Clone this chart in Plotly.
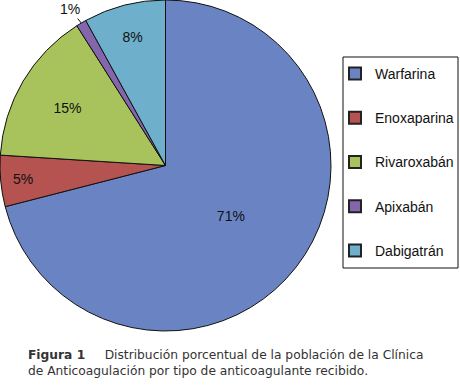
import math
import plotly.graph_objects as go

labels = ["Warfarina", "Enoxaparina", "Rivaroxabán", "Apixabán", "Dabigatrán"]
values = [71, 5, 15, 1, 8]
colors = ["#6A84C3", "#B4534F", "#A8C35B", "#8466AD", "#6EAFCB"]
small_slice = "Apixabán"   # labelled outside with a leader line

W, H = 460, 391
PIE_D = 331  # pie diameter in px
dom_x = [0, PIE_D / W]
dom_y = [(H - PIE_D) / H, 1]

texts = ["" if l == small_slice else f"{v}%" for l, v in zip(labels, values)]
tpos = ["none" if l == small_slice else "inside" for l in labels]

fig = go.Figure()
fig.add_trace(go.Pie(
    labels=labels, values=values, sort=False, direction="clockwise", rotation=0,
    marker=dict(colors=colors, line=dict(color="#111111", width=1)),
    text=texts, textinfo="text", textposition=tpos,
    insidetextorientation="horizontal",
    textfont=dict(family="Liberation Sans, Arial", size=14, color="#111111"),
    showlegend=False, domain=dict(x=dom_x, y=dom_y), hoverinfo="label+percent",
))
for lab, col in zip(labels, colors):
    fig.add_trace(go.Scatter(
        x=[None], y=[None], mode="markers", name=lab, legendgroup=lab,
        marker=dict(symbol="square", size=15, color=col, line=dict(color="#222", width=1)),
    ))

# leader-line label for the small slice, anchored at the slice's mid-angle on the rim
total = sum(values)
idx = labels.index(small_slice)
mid_frac = (sum(values[:idx]) + values[idx] / 2) / total
theta = 2 * math.pi * mid_frac
cx_px, cy_px, r_px = PIE_D / 2, PIE_D / 2, PIE_D / 2
px = cx_px + r_px * math.sin(theta)
py = cy_px - r_px * math.cos(theta)

fig.update_layout(
    width=W, height=H, margin=dict(l=0, r=0, t=0, b=0, autoexpand=False),
    paper_bgcolor="white", plot_bgcolor="white",
    xaxis=dict(visible=False), yaxis=dict(visible=False),
    legend=dict(x=335 / W, y=1 - 58 / H, xanchor="left", yanchor="top",
                borderwidth=0, bgcolor="rgba(0,0,0,0)",
                font=dict(family="Liberation Sans, Arial", size=14, color="#111111"),
                traceorder="grouped", tracegroupgap=23, itemsizing="constant",
                itemwidth=30),
    shapes=[dict(type="rect", xref="paper", yref="paper",
                 x0=343 / W, x1=458 / W, y0=1 - 268 / H, y1=1 - 57 / H,
                 line=dict(color="#111111", width=1), fillcolor="rgba(0,0,0,0)")],
    annotations=[
        dict(xref="paper", yref="paper", x=px / W, y=1 - py / H,
             text=f"{values[idx]}%", showarrow=True, arrowhead=0, arrowwidth=1,
             arrowcolor="#111111", ax=-11, ay=-14, standoff=0,
             font=dict(family="Liberation Sans, Arial", size=14, color="#111111")),
        dict(xref="paper", yref="paper", x=26 / W, y=1 - 346 / H, xanchor="left", yanchor="top",
             align="left", showarrow=False,
             text="<b>Figura 1</b>&nbsp;&nbsp;&nbsp;&nbsp;&nbsp;Distribución porcentual de la población de la Clínica<br>de Anticoagulación por tipo de anticoagulante recibido.",
             font=dict(family="DejaVu Sans", size=12.25, color="#333333")),
    ],
)
fig.write_html("out.html", config={"displayModeBar": False},
               post_script="document.body.style.margin='0';document.body.style.padding='0';")
